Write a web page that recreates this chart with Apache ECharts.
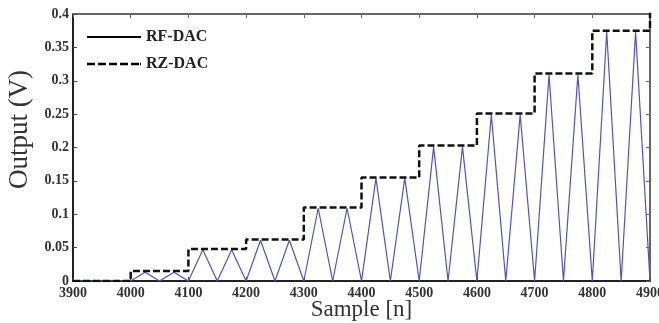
<!DOCTYPE html>
<html>
<head>
<meta charset="utf-8">
<script src="https://cdn.jsdelivr.net/npm/echarts@6/dist/echarts.min.js"></script>
<style>
html,body{margin:0;padding:0;background:#fff;}
#chart{width:659px;height:323px;}
</style>
</head>
<body>
<div id="chart"></div>
<script>
// Tick labels
const xTicks = [3900, 4000, 4100, 4200, 4300, 4400, 4500, 4600, 4700, 4800, 4900];
const yTicks = [0, 0.05, 0.1, 0.15, 0.2, 0.25, 0.3, 0.35, 0.4];

// RZ-DAC (dashed staircase): segment start sample and held level
// (the last point is the next step rising past the top edge at 4900, clipped by the plot)
const rzSample = [3900, 4000, 4100, 4200, 4300, 4400, 4500, 4600, 4700, 4800, 4900];
const rzOutput = [0, 0.015, 0.048, 0.062, 0.110, 0.155, 0.203, 0.251, 0.311, 0.375, 0.44];

// RF-DAC (blue oscillating signal): troughs and peaks
const rfSample = [3900, 4000, 4025, 4050, 4075, 4100, 4125, 4150, 4175, 4200, 4225, 4250, 4275, 4300,
  4325, 4350, 4375, 4400, 4425, 4450, 4475, 4500, 4525, 4550, 4575, 4600, 4625, 4650, 4675, 4700,
  4725, 4750, 4775, 4800, 4825, 4850, 4875, 4900];
const rfOutput = [0, 0, 0.013, 0, 0.013, 0, 0.047, 0, 0.047, 0, 0.061, 0, 0.061, 0,
  0.109, 0, 0.109, 0, 0.154, 0, 0.154, 0, 0.201, 0, 0.201, 0, 0.249, 0, 0.249, 0,
  0.309, 0, 0.309, 0, 0.373, 0, 0.373, 0];

const serif = "'Liberation Serif', 'Times New Roman', serif";
const chart = echarts.init(document.getElementById('chart'), null, {renderer: 'canvas'});

const tickFmtY = v => String(+v.toFixed(2));
const tickFmtX = v => String(Math.round(v));

const solidIcon = 'path://M0,0h54v2h-54z';
const dashedIcon = 'path://M0,0h8v2.4h-8z M11,0h8v2.4h-8z M22,0h8v2.4h-8z M33,0h8v2.4h-8z M44,0h8v2.4h-8z M53,0h1v2.4h-1z';

const option = {
  animation: false,
  backgroundColor: '#fff',
  grid: {left: 73, right: 9, top: 14, bottom: 42, containLabel: false, outerBoundsMode: 'none',
    show: true, borderColor: '#555', borderWidth: 2, backgroundColor: 'transparent'},
  legend: {
    orient: 'vertical',
    left: 82,
    top: 24,
    itemWidth: 54,
    itemHeight: 14,
    itemGap: 11,
    textStyle: {fontFamily: serif, fontWeight: 'bold', fontSize: 16, color: '#222'},
    data: [
      {name: 'RF-DAC', icon: solidIcon, itemStyle: {color: '#000'}},
      {name: 'RZ-DAC', icon: dashedIcon, itemStyle: {color: '#000'}}
    ]
  },
  xAxis: [{
    type: 'value', min: xTicks[0], max: xTicks[xTicks.length - 1], interval: 100,
    name: 'Sample [n]', nameLocation: 'middle', nameGap: 17, nameMoveOverlap: false,
    nameTextStyle: {fontFamily: serif, fontSize: 23, color: '#333', verticalAlign: 'top'},
    axisLine: {show: true, onZero: false, lineStyle: {color: '#222', width: 2}},
    axisTick: {show: true, inside: true, length: 4, lineStyle: {color: '#444'}},
    axisLabel: {fontFamily: serif, fontWeight: 'bold', fontSize: 14, color: '#333', margin: 5, formatter: tickFmtX},
    splitLine: {show: false}
  }, {
    type: 'value', position: 'top', min: xTicks[0], max: xTicks[xTicks.length - 1], interval: 100,
    axisLine: {show: true, onZero: false, lineStyle: {color: '#666', width: 2}},
    axisTick: {show: true, inside: true, length: 4, lineStyle: {color: '#666'}},
    axisLabel: {show: false}, splitLine: {show: false}
  }],
  yAxis: [{
    type: 'value', min: yTicks[0], max: yTicks[yTicks.length - 1], interval: 0.05,
    name: 'Output (V)', nameLocation: 'middle', nameGap: 38,
    nameTextStyle: {fontFamily: serif, fontSize: 27, color: '#333', padding: [0, 0, 0, 36]},
    axisLine: {show: true, onZero: false, lineStyle: {color: '#222', width: 2}},
    axisTick: {show: true, inside: true, length: 4, lineStyle: {color: '#444'}},
    axisLabel: {fontFamily: serif, fontWeight: 'bold', fontSize: 14, color: '#333', margin: 4, formatter: tickFmtY},
    splitLine: {show: false}
  }, {
    type: 'value', position: 'right', min: yTicks[0], max: yTicks[yTicks.length - 1], interval: 0.05,
    axisLine: {show: true, onZero: false, lineStyle: {color: '#666', width: 2}},
    axisTick: {show: true, inside: true, length: 4, lineStyle: {color: '#666'}},
    axisLabel: {show: false}, splitLine: {show: false}
  }],
  series: [{
    name: 'RF-DAC', type: 'line', symbol: 'none', xAxisIndex: 0, yAxisIndex: 0,
    data: rfSample.map((s, i) => [s, rfOutput[i]]),
    lineStyle: {color: '#5252c0', width: 1.2},
    itemStyle: {color: '#5252c0'},
    z: 2
  }, {
    name: 'RZ-DAC', type: 'line', symbol: 'none', step: 'end', xAxisIndex: 0, yAxisIndex: 0,
    data: rzSample.map((s, i) => [s, rzOutput[i]]),
    lineStyle: {color: '#111', width: 2.5, type: [7, 3]},
    itemStyle: {color: '#111'},
    z: 3
  }, {
    name: 'frame', type: 'line', symbol: 'none', xAxisIndex: 1, yAxisIndex: 1,
    data: [], silent: true
  }]
};
chart.setOption(option);
</script>
</body>
</html>
